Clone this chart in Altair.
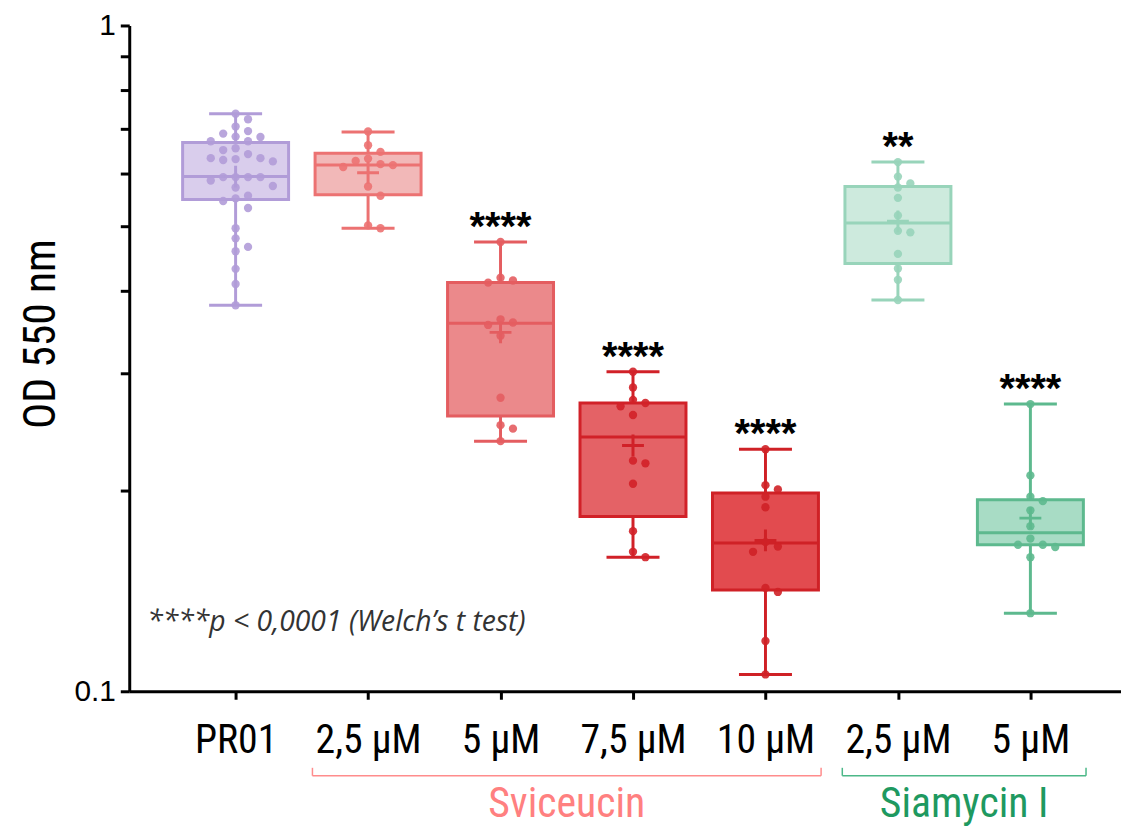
import json
import math
import pandas as pd
import altair as alt

# ---------------- data ----------------
categories = ["PR01", "2,5 µM", "5 µM", "7,5 µM", "10 µM", "2,5 µM", "5 µM"]
stars = ["", "", "****", "****", "****", "**", "****"]

pr01 = [0.737, 0.723, 0.705, 0.694, 0.688, 0.681, 0.680, 0.670, 0.670, 0.654,
        0.650, 0.641, 0.632, 0.632, 0.630, 0.628, 0.625, 0.592, 0.592, 0.592,
        0.592, 0.585, 0.574, 0.571, 0.555, 0.550, 0.545, 0.532, 0.496, 0.479,
        0.465, 0.458, 0.431, 0.409, 0.380]
svi_25 = [0.693, 0.661, 0.646, 0.631, 0.626, 0.619, 0.617, 0.613, 0.573, 0.555, 0.501, 0.496]
svi_5 = [0.473, 0.418, 0.414, 0.411, 0.362, 0.358, 0.355, 0.342, 0.276, 0.251, 0.248, 0.2375]
svi_75 = [0.302, 0.286, 0.274, 0.271, 0.268, 0.260, 0.222, 0.220, 0.205, 0.174, 0.162, 0.159]
svi_10 = [0.231, 0.204, 0.201, 0.196, 0.189, 0.1675, 0.165, 0.162, 0.143, 0.141, 0.119, 0.106]
sia_25 = [0.6235, 0.593, 0.579, 0.571, 0.551, 0.5185, 0.4915, 0.489, 0.454, 0.4315, 0.415, 0.387]
sia_5 = [0.270, 0.211, 0.196, 0.193, 0.187, 0.177, 0.1696, 0.166, 0.166, 0.1647, 0.159, 0.131]
series = [pr01, svi_25, svi_5, svi_75, svi_10, sia_25, sia_5]

box_min = [0.380, 0.496, 0.2375, 0.159, 0.106, 0.387, 0.131]
box_q1 = [0.548, 0.557, 0.259, 0.183, 0.142, 0.439, 0.166]
box_med = [0.593, 0.617, 0.357, 0.241, 0.167, 0.505, 0.173]
box_q3 = [0.667, 0.643, 0.411, 0.271, 0.1985, 0.573, 0.194]
box_max = [0.737, 0.692, 0.473, 0.302, 0.231, 0.6235, 0.270]
box_mean = [0.593, 0.601, 0.346, 0.234, 0.1685, 0.508, 0.182]

group_names = ["Sviceucin", "Siamycin I"]
group_first = [1, 5]
group_last = [4, 6]

note_text = "****p < 0,0001 (Welch\u2019s t test)"

# ---------------- styles ----------------
stroke_colors = ["#B19CD8", "#EC7272", "#E45D60", "#D12128", "#CF2126", "#98D4BA", "#5DB98E"]
fill_colors = ["#D9CDEC", "#F2B8B8", "#EB898B", "#E46266", "#E24B4F", "#CDEADD", "#A8DCC5"]
group_text_colors = ["#FF8080", "#1E9960"]
group_line_colors = ["#FF8C8C", "#4CB888"]

FONT = "Liberation Sans Narrow, Arial Narrow, Roboto Condensed, DejaVu Sans Condensed, Liberation Sans, sans-serif"

W, H = 998, 670
X_DOMAIN = [-0.803, 6.684]
px_per_unit = W / (X_DOMAIN[1] - X_DOMAIN[0])
px_per_decade = H / 1.0

# ---------------- tables ----------------
summary = pd.DataFrame({
    "i": list(range(len(categories))),
    "vmin": box_min, "q1": box_q1, "med": box_med, "q3": box_q3,
    "vmax": box_max, "mean": box_mean, "star": stars,
    "sc": stroke_colors, "fc": fill_colors,
})

# simple beeswarm spreading of points that overlap
rows = []
step, dmin = 12.5, 10.0
for i, vals in enumerate(series):
    placed = []
    for v in sorted(vals, reverse=True):
        py = -math.log10(v) * px_per_decade
        for k in [0, 1, -1, 2, -2, 3, -3, 4, -4]:
            px = k * step
            if all((px - qx) ** 2 + (py - qy) ** 2 >= dmin ** 2 for qx, qy in placed):
                break
        placed.append((px, py))
        rows.append({"i": i, "sc": stroke_colors[i], "v": v, "xo": i + px / px_per_unit})
points = pd.DataFrame(rows)

groups = pd.DataFrame({
    "name": group_names, "first": group_first, "last": group_last,
    "tc": group_text_colors, "lc": group_line_colors,
})
note = pd.DataFrame({"t": [note_text]})

xscale = alt.Scale(domain=X_DOMAIN, nice=False, zero=False)
yscale = alt.Scale(type="log", domain=[0.1, 1], nice=False)

label_arr = json.dumps(categories)

x_axis = alt.Axis(
    values=list(range(len(categories))),
    labelExpr=f"{label_arr}[datum.value]",
    title=None, grid=False, domainWidth=3, domainColor="black",
    tickWidth=3, tickSize=8, tickColor="black",
    labelFont=FONT, labelFontSize=40, labelColor="black", labelPadding=22,
    labelFlush=False, labelOverlap=False,
)
y_axis = alt.Axis(
    values=[0.1, 0.2, 0.3, 0.4, 0.5, 0.6, 0.7, 0.8, 0.9, 1],
    labelExpr="datum.value == 1 ? '1' : (datum.value == 0.1 ? '0.1' : '')",
    title="OD 550 nm", titleFont=FONT, titleFontSize=44, titleFontWeight="normal",
    titleColor="black", titleAngle=-90, titleX=-75, titleY=310, titleAlign="center",
    titleBaseline="alphabetic",
    grid=False, domainWidth=3, domainColor="black",
    tickWidth=3, tickSize=9, tickColor="black",
    labelFont="Liberation Sans", labelFontSize=30, labelColor="black", labelPadding=5,
    labelFlush=False, labelOverlap=False,
)


def X(field):
    return alt.X(field, type="quantitative", scale=xscale, axis=x_axis)


def Y(field):
    return alt.Y(field, type="quantitative", scale=yscale, axis=y_axis)


STROKE = alt.Color("sc:N", scale=None)

base = alt.Chart(summary)

whisker = base.mark_rule(strokeWidth=3).encode(
    x=X("i"), y=Y("vmin"), y2="vmax:Q", color=STROKE,
)

box = base.transform_calculate(
    xl="datum.i - 0.4", xr="datum.i + 0.4"
).mark_rect(strokeWidth=3).encode(
    x=X("xl"), x2="xr:Q", y=Y("q1"), y2="q3:Q",
    fill=alt.Fill("fc:N", scale=None),
    stroke=alt.Stroke("sc:N", scale=None),
)

median = base.transform_calculate(
    xl="datum.i - 0.4", xr="datum.i + 0.4"
).mark_rule(strokeWidth=3).encode(
    x=X("xl"), x2="xr:Q", y=Y("med"), color=STROKE,
)

cap_lo = base.transform_calculate(
    xl="datum.i - 0.2", xr="datum.i + 0.2"
).mark_rule(strokeWidth=3).encode(
    x=X("xl"), x2="xr:Q", y=Y("vmin"), color=STROKE,
)
cap_hi = base.transform_calculate(
    xl="datum.i - 0.2", xr="datum.i + 0.2"
).mark_rule(strokeWidth=3).encode(
    x=X("xl"), x2="xr:Q", y=Y("vmax"), color=STROKE,
)

dots = alt.Chart(points).mark_circle(size=70, opacity=0.9).encode(
    x=X("xo"), y=Y("v"), color=STROKE,
)

mean_cross = base.mark_point(
    shape="M-1,0L1,0M0,-1L0,1", filled=False, strokeWidth=3, size=484, opacity=1
).encode(
    x=X("i"), y=Y("mean"), color=STROKE,
)

star_text = base.mark_text(
    font="Liberation Sans", fontSize=40, fontWeight="bold", baseline="alphabetic",
    align="center", dy=-2, color="black",
).encode(
    x=X("i"), y=Y("vmax"), text="star:N",
)

gbase = alt.Chart(groups).transform_calculate(
    gx1="datum.first - 0.42", gx2="datum.last + 0.42",
    gm="(datum.first + datum.last) / 2",
)
LINEC = alt.Color("lc:N", scale=None)
bracket = gbase.mark_rule(strokeWidth=1.5).encode(
    x=X("gx1"), x2="gx2:Q", y=alt.value(755), color=LINEC,
)
bracket_l = gbase.mark_rule(strokeWidth=1.5).encode(
    x=X("gx1"), y=alt.value(747), y2=alt.value(755), color=LINEC,
)
bracket_r = gbase.mark_rule(strokeWidth=1.5).encode(
    x=X("gx2"), y=alt.value(747), y2=alt.value(755), color=LINEC,
)
group_label = gbase.mark_text(
    font=FONT, fontSize=42, baseline="alphabetic", align="center",
).encode(
    x=X("gm"), y=alt.value(796), text="name:N",
    color=alt.Color("tc:N", scale=None),
)

note_mark = alt.Chart(note).mark_text(
    font="Open Sans", fontSize=28.5, fontStyle="italic", align="left",
    baseline="middle", color="#333333",
).encode(x=alt.value(18), y=alt.value(600), text="t:N")

chart = alt.layer(
    whisker, box, median, cap_lo, cap_hi, dots, mean_cross, star_text,
    bracket, bracket_l, bracket_r, group_label, note_mark,
).properties(
    width=W, height=H,
    autosize=alt.AutoSizeParams(type="none"),
    padding={"left": 122, "top": 15, "right": 0, "bottom": 138},
).configure_view(stroke=None)

chart.save("out.html", embed_options={"renderer": "svg", "actions": False})
